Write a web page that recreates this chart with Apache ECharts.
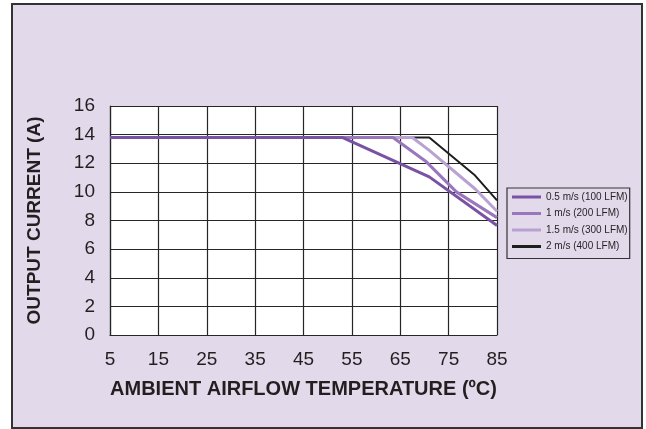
<!DOCTYPE html>
<html>
<head>
<meta charset="utf-8">
<script src="https://cdn.jsdelivr.net/npm/echarts@6/dist/echarts.min.js"></script>
<style>
html,body{margin:0;padding:0;background:#fff;}
#c{width:646px;height:429px;}
</style>
</head>
<body>
<div id="c"></div>
<script>
var xTicks = [5, 15, 25, 35, 45, 55, 65, 75, 85];
var yTicks = [0, 2, 4, 6, 8, 10, 12, 14, 16];
var seriesNames = ['0.5 m/s (100 LFM)', '1 m/s (200 LFM)', '1.5 m/s (300 LFM)', '2 m/s (400 LFM)'];

var temp05 = [5, 53, 71, 85];
var curr05 = [13.8, 13.8, 11.05, 7.65];

var temp1 = [5, 63.5, 70.4, 76.6, 85];
var curr1 = [13.8, 13.8, 12.1, 10.0, 8.2];

var temp15 = [5, 67.5, 71, 80.5, 85];
var curr15 = [13.8, 13.8, 12.9, 10.2, 8.65];

var temp2 = [5, 71, 80.3, 85];
var curr2 = [13.8, 13.8, 11.2, 9.4];

var colors = ['#7a52a3', '#9a76bd', '#b9a2d2', '#1e1e1e'];
var widths = [3, 3, 3, 2];

function pairs(t, v) { return t.map(function (x, i) { return [x, v[i]]; }); }
var allData = [pairs(temp05, curr05), pairs(temp1, curr1), pairs(temp15, curr15), pairs(temp2, curr2)];

var chart = echarts.init(document.getElementById('c'), null, { renderer: 'canvas' });
var font = 'Liberation Sans, Arial, Helvetica, sans-serif';
var gridColor = '#262626';

chart.setOption({
  backgroundColor: '#ffffff',
  animation: false,
  graphic: [{
    type: 'rect', z: -100, silent: true,
    shape: { x: 12, y: 4, width: 630, height: 424 },
    style: { fill: '#e2daeb', stroke: '#333333', lineWidth: 2 }
  }],
  grid: { left: 110, top: 106, right: 149, bottom: 94, show: true, backgroundColor: '#ffffff', borderWidth: 0 },
  xAxis: {
    type: 'value', min: xTicks[0], max: xTicks[xTicks.length - 1], interval: 10,
    name: 'AMBIENT AIRFLOW TEMPERATURE (ºC)', nameLocation: 'middle', nameGap: 44,
    nameTextStyle: { fontFamily: font, fontWeight: 'bold', fontSize: 20, color: '#231f20' },
    axisLine: { show: true, lineStyle: { color: gridColor, width: 1.2 } },
    axisTick: { show: false },
    axisLabel: { fontFamily: font, fontSize: 19, color: '#231f20', margin: 15 },
    splitLine: { show: true, lineStyle: { color: gridColor, width: 1.2 } }
  },
  yAxis: {
    type: 'value', min: yTicks[0], max: yTicks[yTicks.length - 1], interval: 2,
    name: 'OUTPUT CURRENT (A)', nameLocation: 'middle', nameGap: 66, nameRotate: 90,
    nameTextStyle: { fontFamily: font, fontWeight: 'bold', fontSize: 19, color: '#231f20' },
    axisLine: { show: true, lineStyle: { color: gridColor, width: 1.2 } },
    axisTick: { show: false },
    axisLabel: { fontFamily: font, fontSize: 19, color: '#231f20', margin: 15 },
    splitLine: { show: true, lineStyle: { color: gridColor, width: 1.2 } }
  },
  legend: {
    orient: 'vertical', left: 507, top: 188,
    padding: [3, 2, 6, 5],
    backgroundColor: '#e2daeb', borderColor: '#333333', borderWidth: 1.2,
    itemWidth: 29, itemHeight: 3, itemGap: 4.5, icon: 'rect',
    textStyle: { fontFamily: 'Liberation Sans Narrow, Arial Narrow, ' + font, fontSize: 10, color: '#231f20', lineHeight: 12 },
    data: seriesNames
  },
  series: allData.map(function (d, i) {
    return {
      name: seriesNames[i], type: 'line', data: d, symbol: 'none',
      color: colors[i],
      lineStyle: { color: colors[i], width: widths[i] },
      z: 10 - i
    };
  })
});
</script>
</body>
</html>
